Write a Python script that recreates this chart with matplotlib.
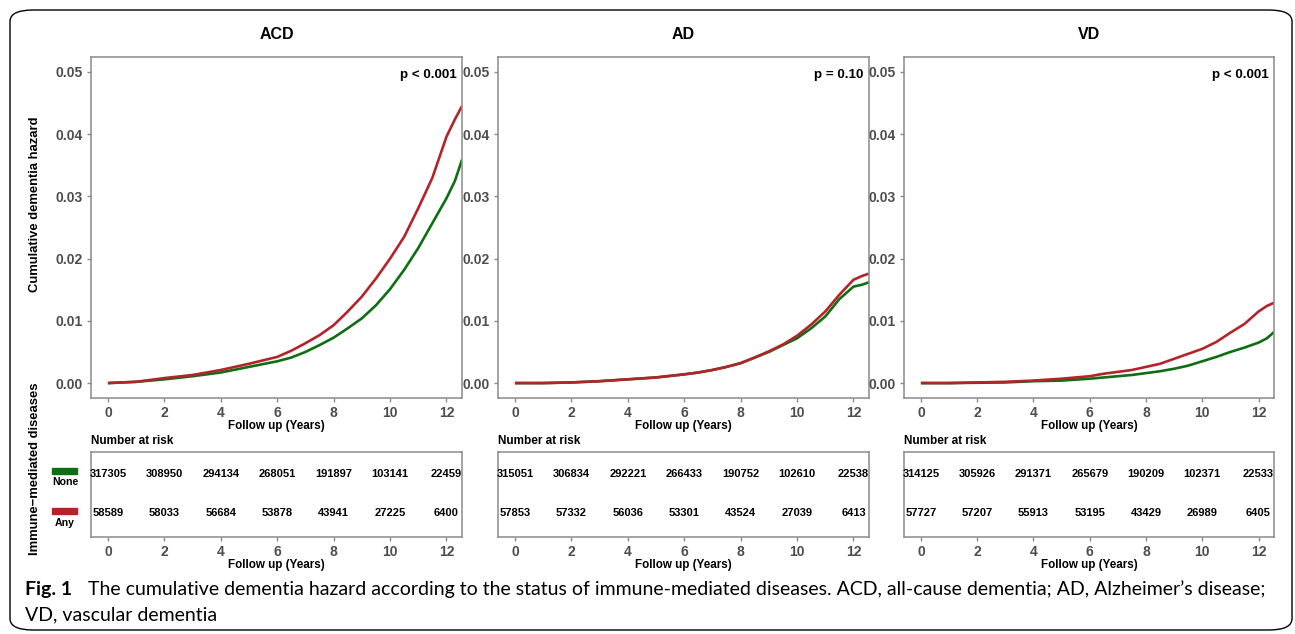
import matplotlib
matplotlib.use("Agg")
import matplotlib.pyplot as plt
from matplotlib.patches import FancyBboxPatch, Rectangle

plt.rcParams["font.family"] = ["Liberation Sans", "DejaVu Sans"]

# data
panels = ["ACD", "AD", "VD"]
p_values = ["p < 0.001", "p = 0.10", "p < 0.001"]

years = [0, 1, 2, 3, 4, 5, 6, 6.5, 7, 7.5, 8, 8.5, 9, 9.5, 10, 10.5, 11, 11.5, 12, 12.3, 12.55]
none_acd = [0, 0.0002, 0.0006, 0.0011, 0.0017, 0.0026, 0.0035, 0.0041, 0.0050, 0.0061, 0.0073,
            0.0088, 0.0104, 0.0125, 0.0151, 0.0182, 0.0217, 0.0257, 0.0297, 0.0325, 0.0359]
any_acd = [0, 0.0002, 0.0008, 0.0013, 0.0021, 0.0031, 0.0042, 0.0052, 0.0064, 0.0077, 0.0093,
           0.0115, 0.0139, 0.0168, 0.0200, 0.0235, 0.0281, 0.0330, 0.0396, 0.0424, 0.0445]
none_ad = [0, 0.0000, 0.0001, 0.0003, 0.0006, 0.0009, 0.0014, 0.0017, 0.0021, 0.0026, 0.0032,
           0.0041, 0.0050, 0.0061, 0.0072, 0.0088, 0.0107, 0.0135, 0.0155, 0.0158, 0.0162]
any_ad = [0, 0.0000, 0.0001, 0.0003, 0.0006, 0.0009, 0.0014, 0.0017, 0.0021, 0.0026, 0.0032,
          0.0041, 0.0051, 0.0062, 0.0076, 0.0094, 0.0115, 0.0142, 0.0166, 0.0172, 0.0176]
none_vd = [0, 0.0000, 0.00005, 0.0001, 0.0003, 0.0004, 0.0007, 0.0009, 0.0011, 0.0013, 0.0016,
           0.0019, 0.0023, 0.0028, 0.0035, 0.0042, 0.0050, 0.0057, 0.0065, 0.0072, 0.0082]
any_vd = [0, 0.0000, 0.0001, 0.0002, 0.0004, 0.0007, 0.0011, 0.0015, 0.0018, 0.0021, 0.0026,
          0.0031, 0.0039, 0.0047, 0.0055, 0.0066, 0.0081, 0.0095, 0.0115, 0.0124, 0.0129]
none_curves = [none_acd, none_ad, none_vd]
any_curves = [any_acd, any_ad, any_vd]

risk_years = [0, 2, 4, 6, 8, 10, 12]
risk_none = [
    [317305, 308950, 294134, 268051, 191897, 103141, 22459],
    [315051, 306834, 292221, 266433, 190752, 102610, 22538],
    [314125, 305926, 291371, 265679, 190209, 102371, 22533],
]
risk_any = [
    [58589, 58033, 56684, 53878, 43941, 27225, 6400],
    [57853, 57332, 56036, 53301, 43524, 27039, 6413],
    [57727, 57207, 55913, 53195, 43429, 26989, 6405],
]

GREEN = "#0e6e12"
RED = "#b3242a"
GRAY = "#4d4d4d"
FRAME = "#8a8a8a"
CAPTION_FONT = ["Lato", "DejaVu Sans"]

W, H = 1295, 634
fig = plt.figure(figsize=(W / 100, H / 100), dpi=100)


def rect(x0, y0, x1, y1):
    return [x0 / W, 1 - y1 / H, (x1 - x0) / W, (y1 - y0) / H]


def style(ax):
    for s in ax.spines.values():
        s.set_color(FRAME)
        s.set_linewidth(1.1)
    ax.tick_params(colors=FRAME, labelcolor=GRAY, length=3, width=1.0, labelsize=10, pad=3)
    for lab in ax.get_xticklabels() + ax.get_yticklabels():
        lab.set_fontweight("bold")


# outer rounded border
fig.patches.append(FancyBboxPatch((10 / W, 4 / H), 1282 / W, 620 / H,
                                  boxstyle="round,pad=0,rounding_size=0.018",
                                  transform=fig.transFigure, fill=False,
                                  edgecolor="black", linewidth=1.0))

xs = [(91, 462), (498, 869), (904, 1274)]
for i, (x0, x1) in enumerate(xs):
    ax = fig.add_axes(rect(x0, 57, x1, 398))
    ax.plot(years, none_curves[i], color=GREEN, lw=1.9, solid_capstyle="butt")
    ax.plot(years, any_curves[i], color=RED, lw=1.9, solid_capstyle="butt")
    ax.set_xlim(-0.6, 12.55)
    ax.set_ylim(-0.0024, 0.0524)
    ax.set_xticks(risk_years)
    ax.set_yticks([0, 0.01, 0.02, 0.03, 0.04, 0.05])
    ax.set_yticklabels(["0.00", "0.01", "0.02", "0.03", "0.04", "0.05"])
    style(ax)
    ax.set_xlabel("Follow up (Years)", fontsize=8.4, fontweight="bold", labelpad=0)
    ax.set_title(panels[i], fontsize=11.5, fontweight="bold", pad=13)
    ax.text(0.985, 0.965, p_values[i], transform=ax.transAxes, ha="right", va="top",
            fontsize=9.6, fontweight="bold")

    rt = fig.add_axes(rect(x0, 452, x1, 537))
    rt.set_xlim(-0.6, 12.55)
    rt.set_ylim(0, 1)
    rt.set_xticks(risk_years)
    rt.set_yticks([])
    style(rt)
    for yr, n_none, n_any in zip(risk_years, risk_none[i], risk_any[i]):
        rt.text(yr, 0.74, str(n_none), ha="center", va="center", fontsize=8, fontweight="bold")
        rt.text(yr, 0.28, str(n_any), ha="center", va="center", fontsize=8, fontweight="bold")
    rt.set_xlabel("Follow up (Years)", fontsize=8.4, fontweight="bold", labelpad=0)
    rt.text(0, 1.06, "Number at risk", transform=rt.transAxes, ha="left", va="bottom",
            fontsize=8.5, fontweight="bold")

# legend for the risk table
fig.patches.append(Rectangle((52 / W, 1 - 474 / H), 25 / W, 6 / H, transform=fig.transFigure,
                             color=GREEN))
fig.patches.append(Rectangle((52 / W, 1 - 514 / H), 25 / W, 6 / H, transform=fig.transFigure,
                             color=RED))
fig.text(65 / W, 1 - 482 / H, "None", ha="center", va="center", fontsize=7.6, fontweight="bold")
fig.text(65 / W, 1 - 523 / H, "Any", ha="center", va="center", fontsize=7.6, fontweight="bold")

fig.text(35 / W, 1 - 204 / H, "Cumulative dementia hazard", rotation=90, ha="center",
         va="center", fontsize=9.4, fontweight="bold")
fig.text(35 / W, 1 - 469 / H, "Immune\u2212mediated diseases", rotation=90, ha="center",
         va="center", fontsize=9.4, fontweight="bold")

# caption
fig.text(25 / W, 1 - 595 / H, "Fig. 1", ha="left", va="baseline", fontsize=14,
         fontweight="bold", family=CAPTION_FONT)
fig.text(88 / W, 1 - 595 / H,
         "The cumulative dementia hazard according to the status of immune-mediated diseases. "
         "ACD, all-cause dementia; AD, Alzheimer\u2019s disease;",
         ha="left", va="baseline", fontsize=14, family=CAPTION_FONT)
fig.text(25 / W, 1 - 620 / H, "VD, vascular dementia", ha="left", va="baseline",
         fontsize=14, family=CAPTION_FONT)

fig.savefig("out.png", dpi=100)
